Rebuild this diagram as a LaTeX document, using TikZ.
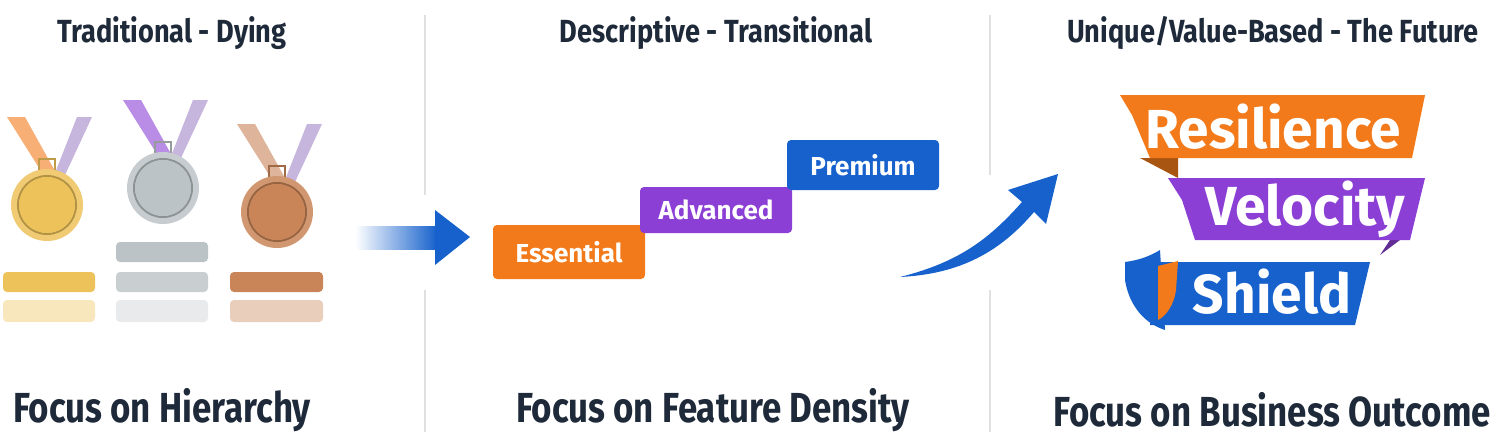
\documentclass[tikz,border=0pt]{standalone}
\usepackage{fontspec}
\setmainfont{Fira Sans}
\usetikzlibrary{shapes.geometric}
\definecolor{ora}{HTML}{F27A1A}
\definecolor{pur}{HTML}{8B3FD4}
\definecolor{blu}{HTML}{1661CC}
\definecolor{dark}{HTML}{1E2A3A}
\definecolor{gold}{HTML}{EEC25A}
\definecolor{silv}{HTML}{BCC3C6}
\definecolor{bron}{HTML}{C98558}
\definecolor{rib}{HTML}{9A7CC2}
\begin{document}
\begin{tikzpicture}[x=0.5pt,y=-0.5pt,
  ttl/.style={font=\bfseries\fontsize{16}{18}\selectfont,text=dark},
  btm/.style={font=\bfseries\fontsize{21}{24}\selectfont,text=dark},
  stepbox/.style={rounded corners=2pt,text=white,font=\bfseries\fontsize{13}{14}\selectfont,inner sep=0pt},
  rbn/.style={text=white,font=\bfseries\fontsize{27.5}{30}\selectfont},
  sep/.style={draw=black!12,line width=0.6pt},
  bar/.style={rounded corners=2pt}]
\useasboundingbox (0,0) rectangle (1502,439);
% separators
\draw[sep] (425,15)--(425,195) (425,290)--(425,432);
\draw[sep] (990,15)--(990,175) (990,290)--(990,432);
% titles
\node[ttl] (t1) at (172,33) {\scalebox{0.85}[1]{Traditional - Dying}};
\node[ttl] (t2) at (716,33) {\scalebox{0.85}[1]{Descriptive - Transitional}};
\node[ttl] (t3) at (1273,33) {\scalebox{0.85}[1]{Unique/Value-Based - The Future}};
\node[btm] (b1) at (162,410) {\scalebox{0.83}[1]{Focus on Hierarchy}};
\node[btm] (b2) at (713,410) {\scalebox{0.83}[1]{Focus on Feature Density}};
\node[btm] (b3) at (1272,410) {\scalebox{0.83}[1]{Focus on Business Outcome}};
% medals
\foreach \cx/\cy/\c/\rb in {47/205/gold/ora, 163/188/silv/pur, 277/212/bron/bron}{
  \fill[rib!70,opacity=0.8] (\cx+8,\cy-32)--(\cx+30,\cy-88)--(\cx+45,\cy-88)--(\cx+18,\cy-30)--cycle;
  \fill[\rb!75,opacity=0.8] (\cx-40,\cy-88)--(\cx-22,\cy-88)--(\cx+8,\cy-34)--(\cx-6,\cy-34)--cycle;
  \draw[\c!80!black,line width=1pt] (\cx-8,\cy-46) rectangle (\cx+8,\cy-32);
  \fill[\c!85!white] (\cx,\cy) circle[radius=36];
  \draw[\c!75!black,line width=1pt] (\cx,\cy) circle[radius=29];
  \fill[\c] (\cx,\cy) circle[radius=28];
}
\fill[bar,gold] (3,272) rectangle (95,292);
\fill[bar,gold!40] (3,300) rectangle (95,322);
\fill[bar,silv] (116,242) rectangle (208,262);
\fill[bar,silv!80] (116,272) rectangle (208,292);
\fill[bar,silv!35] (116,300) rectangle (208,322);
\fill[bar,bron] (230,272) rectangle (323,292);
\fill[bar,bron!40] (230,300) rectangle (323,322);
% arrow 1
\shade[left color=white,right color=blu] (355,226) rectangle (437,249);
\fill[blu] (435,210)--(470,237)--(435,265)--cycle;
% steps
\node[stepbox,fill=ora,minimum width=76pt,minimum height=27pt] (ess) at (569,252) {Essential};
\node[stepbox,fill=pur,minimum width=76pt,minimum height=23pt] (adv) at (716,210) {Advanced};
\node[stepbox,fill=blu,minimum width=76pt,minimum height=25pt] (pre) at (863,165) {Premium};
% curved arrow
\fill[blu] (900,277) .. controls (960,262) and (990,238) .. (1022,202)
  --(1008,190)--(1058,174)--(1046,224)--(1034,212)
  .. controls (1000,252) and (960,274) .. (900,277)--cycle;
% ribbons
\fill[ora!70!black] (1140,158)--(1178,178)--(1178,158)--cycle;
\fill[ora] (1120,95)--(1425,95)--(1412,158)--(1150,158)--(1132,115)--cycle;
\node[rbn] (res) at (1273,127) {Resilience};
\fill[pur!70!black] (1400,240)--(1380,255)--(1390,240)--cycle;
\fill[pur] (1168,178)--(1425,178)--(1410,240)--(1195,240)--(1182,200)--cycle;
\node[rbn] (vel) at (1305,209) {Velocity};
\fill[blu] (1150,262)--(1370,262)--(1355,325)--(1150,325)--cycle;
\fill[blu] (1125,262) .. controls (1140,260) and (1150,256) .. (1160,250)
  -- (1165,330) .. controls (1140,322) and (1128,300) .. (1125,280) -- cycle;
\fill[ora] (1158,266) -- (1178,261) -- (1176,290) .. controls (1174,305) and (1166,316) .. (1158,320) -- cycle;
\node[rbn] (shi) at (1272,292) {Shield};
\end{tikzpicture}
\end{document}
